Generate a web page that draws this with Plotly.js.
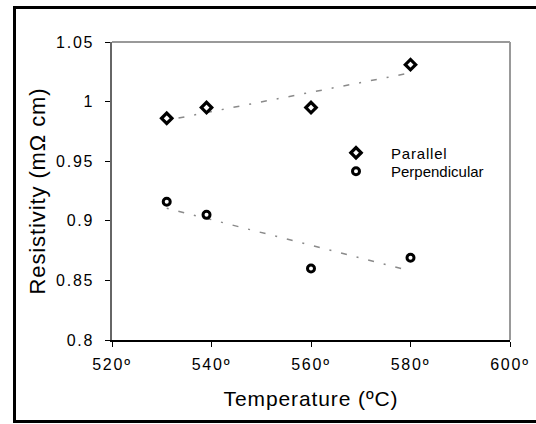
<!DOCTYPE html>
<html>
<head>
<meta charset="utf-8">
<script src="https://cdn.plot.ly/plotly-3.0.1.min.js"></script>
<style>
  html, body { margin: 0; padding: 0; background: #fff; overflow: hidden; }
  #chart { width: 536px; height: 424px; overflow: hidden; }
  .xtick text, .ytick text { letter-spacing: 1.8px; }
  text.xtitle, text.ytitle { letter-spacing: 0.9px; }
  text.legendtext { letter-spacing: 0.8px; }
</style>
</head>
<body>
<div id="chart"></div>
<script>
// Data
const parallelTemp = [531, 539, 560, 580];
const parallelRes = [0.986, 0.995, 0.995, 1.031];
const perpTemp = [531, 539, 560, 580];
const perpRes = [0.916, 0.905, 0.860, 0.869];
const xTickVals = [520, 540, 560, 580, 600];
const xTickText = ['520º', '540º', '560º', '580º', '600º'];
const yTickVals = [0.8, 0.85, 0.9, 0.95, 1, 1.05];
const yTickText = ['0.8', '0.85', '0.9', '0.95', '1', '1.05'];

function linFit(xs, ys) {
  const n = xs.length;
  const mx = xs.reduce((a, b) => a + b, 0) / n;
  const my = ys.reduce((a, b) => a + b, 0) / n;
  let sxx = 0, sxy = 0;
  for (let i = 0; i < n; i++) { sxx += (xs[i] - mx) ** 2; sxy += (xs[i] - mx) * (ys[i] - my); }
  const m = sxy / sxx;
  const b = my - m * mx;
  const x0 = Math.min(...xs), x1 = Math.max(...xs);
  return { x: [x0, x1], y: [m * x0 + b, m * x1 + b] };
}
const fitPar = linFit(parallelTemp, parallelRes);
const fitPerp = linFit(perpTemp, perpRes);

const trendLine = { color: '#8a8a8a', width: 1.5, dash: '2px,10px,6px,10px' };

const traces = [
  { x: fitPar.x, y: fitPar.y, mode: 'lines', line: trendLine, showlegend: false, hoverinfo: 'skip' },
  { x: fitPerp.x, y: fitPerp.y, mode: 'lines', line: trendLine, showlegend: false, hoverinfo: 'skip' },
  { x: parallelTemp, y: parallelRes, mode: 'markers', name: 'Parallel', legend: 'legend',
    marker: { symbol: 'diamond', size: 8, color: '#ffffff', line: { color: '#000000', width: 3.2 } } },
  { x: perpTemp, y: perpRes, mode: 'markers', name: 'Perpendicular', legend: 'legend2',
    marker: { symbol: 'circle', size: 7, color: '#ffffff', line: { color: '#000000', width: 3 } } }
];

const L = 112, R = 26, T = 42, B = 84, W = 536, H = 424;
const pw = W - L - R, ph = H - T - B;
const px = v => (v - L) / pw;
const py = v => (H - B - v) / ph;

const legendBase = {
  xanchor: 'left', yanchor: 'middle',
  bgcolor: 'rgba(0,0,0,0)', font: { size: 15 }, itemwidth: 60, borderwidth: 0
};

const layout = {
  width: W, height: H,
  margin: { l: L, r: R, t: T, b: B, pad: 0 },
  paper_bgcolor: '#ffffff', plot_bgcolor: '#ffffff',
  font: { family: 'Liberation Sans, Arial, sans-serif', color: '#000000', size: 16 },
  showlegend: true,
  legend: Object.assign({}, legendBase, { x: px(321), y: py(153) }),
  legend2: Object.assign({}, legendBase, { x: px(321), y: py(171.5) }),
  xaxis: {
    range: [520, 600], tickvals: xTickVals, ticktext: xTickText,
    showgrid: false, zeroline: false,
    showline: true, linecolor: '#000000', linewidth: 1.5,
    ticks: 'outside', ticklen: 5, tickcolor: '#000000', tickwidth: 1,
    ticklabelstandoff: 4,
    tickfont: { size: 16 },
    title: { text: 'Temperature (ºC)', font: { size: 21 }, standoff: 19 }
  },
  yaxis: {
    range: [0.8, 1.05], tickvals: yTickVals, ticktext: yTickText,
    showgrid: false, zeroline: false,
    showline: true, linecolor: '#666666', linewidth: 2.5,
    ticks: 'outside', ticklen: 5, tickcolor: '#000000', tickwidth: 1,
    ticklabelstandoff: 7,
    tickfont: { size: 16 },
    title: { text: 'Resistivity (mΩ cm)', font: { size: 22 }, standoff: 5 }
  },
  shapes: [
    { type: 'line', xref: 'paper', yref: 'paper', x0: 0, x1: 1, y0: 1, y1: 1, line: { color: '#999999', width: 2 } },
    { type: 'line', xref: 'paper', yref: 'paper', x0: 1, x1: 1, y0: 0, y1: 1, line: { color: '#999999', width: 2 } },
    { type: 'line', xref: 'paper', yref: 'paper', x0: px(14.5), x1: px(14.5), y0: py(421.5), y1: py(6), line: { color: '#000000', width: 3 }, layer: 'above' },
    { type: 'line', xref: 'paper', yref: 'paper', x0: px(13), x1: px(536), y0: py(7.5), y1: py(7.5), line: { color: '#000000', width: 3 }, layer: 'above' },
    { type: 'line', xref: 'paper', yref: 'paper', x0: px(13), x1: px(536), y0: py(421.5), y1: py(421.5), line: { color: '#000000', width: 3 }, layer: 'above' }
  ]
};

Plotly.newPlot('chart', traces, layout, { displayModeBar: false, staticPlot: true });
</script>
</body>
</html>
